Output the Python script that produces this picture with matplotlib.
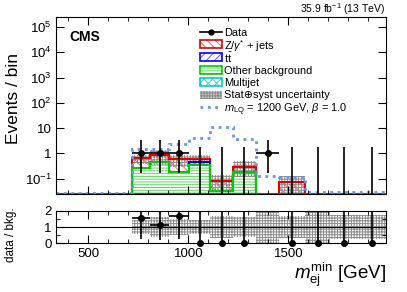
import numpy as np
import matplotlib
matplotlib.use("Agg")
import matplotlib.pyplot as plt
from matplotlib.patches import Rectangle
from matplotlib.lines import Line2D
from matplotlib.ticker import FixedLocator, MultipleLocator, FuncFormatter, LogLocator, NullFormatter

plt.rcParams['font.family'] = ['Liberation Sans', 'DejaVu Sans']
plt.rcParams['mathtext.fontset'] = 'custom'
plt.rcParams['mathtext.rm'] = 'Liberation Sans'
plt.rcParams['mathtext.it'] = 'Liberation Sans:italic'
plt.rcParams['mathtext.bf'] = 'Liberation Sans:bold'
plt.rcParams['hatch.linewidth'] = 0.7

# bin edges (GeV) and contents
edges = np.array([340, 717, 808, 905, 1005, 1110, 1222, 1338, 1455, 1583, 1710, 1850, 1987])
other = np.array([0, 0.255, 0.47, 0.18, 0.345, 0.032, 0.18, 0, 0, 0, 0, 0])
ttbar = np.array([0, 0, 0, 0.01, 0.095, 0, 0, 0, 0, 0, 0, 0])
zjets = np.array([0, 0.385, 0.41, 0.40, 0.19, 0.051, 0.12, 0, 0.075, 0, 0, 0])
multijet = np.array([0, 0, 0, 0, 0, 0, 0, 0, 0, 0, 0, 0])
signal = np.array([0.027, 1.45, 1.5, 2.3, 4.0, 11.5, 3.8, 0.13, 0.12, 0.031, 0.031, 0.031])
data = np.array([0, 1, 1, 1, 0, 0, 0, 1, 0, 0, 0, 0])
rel_unc = np.array([0, 0.42, 0.6, 0.49, 0.42, 0.65, 0.62, 1.0, 0.65, 1.0, 0.72, 0.72])

# poisson (Garwood) intervals
err_lo = np.where(data > 0, 0.827, 0)
err_hi = np.where(data > 0, 2.299, 1.841)

ymin, ymax = 0.025, 2.4e5
floor = 1e-4

W, H = 407, 292
fig = plt.figure(figsize=(W / 100, H / 100), dpi=100)
ax = fig.add_axes([0.1388, 0.3356, 0.8089, 0.6052])
axr = fig.add_axes([0.1388, 0.1661, 0.8089, 0.1130])

centers = 0.5 * (edges[1:] + edges[:-1])
halfw = 0.5 * np.diff(edges)

c_other = floor + other
c_tt = c_other + ttbar
c_z = c_tt + zjets
total = other + ttbar + zjets + multijet

layers = [
    (np.full(len(other), floor), c_other, '#00cc00', '#55dd55', '------'),
    (c_other, c_tt, '#0000ff', '#6060ff', '////'),
    (c_tt, c_z, '#e00000', '#ee6a6a', '\\\\\\\\'),
]
for lo, hi, lc, hc, h in layers:
    ax.stairs(hi, edges, baseline=lo, fill=True, facecolor='white', edgecolor=hc,
              hatch=h, linewidth=0)

# uncertainty band
band_hi = np.where(total > 0, total * (1 + rel_unc), floor)
band_lo = np.where(total > 0, np.maximum(total * (1 - rel_unc), floor), floor)
ax.stairs(band_hi, edges, baseline=band_lo, fill=True, facecolor='none',
          edgecolor='#8c8c8c', hatch='++++++', linewidth=0)

for lo, hi, lc, hc, h in layers[::-1]:
    ax.stairs(hi, edges, baseline=None, color=lc, linewidth=1.5)

# multijet (negligible) sits on the bottom of the axis
ax.stairs(np.clip(multijet, ymin * 1.03, None), edges, baseline=None, color='#007a5e', linewidth=1.5)

# signal
ax.stairs(signal, edges, baseline=None, color='#6495ed', linestyle=':', linewidth=2)

# data
nz = data > 0
ax.errorbar(centers[nz], data[nz], xerr=halfw[nz], yerr=[err_lo[nz], err_hi[nz]],
            fmt='o', color='black', ms=4, lw=1.2, capsize=0)
z = (data == 0) & (centers > edges[1])
ax.vlines(centers[z], ymin, err_hi[z], color='black', lw=1.2)

ax.set_yscale('log')
ax.set_ylim(ymin, ymax)
ax.set_xlim(edges[0], edges[-1])
ax.yaxis.set_major_locator(FixedLocator([0.1, 1, 10, 100, 1e3, 1e4, 1e5]))
ax.yaxis.set_minor_locator(LogLocator(base=10, subs=np.arange(2, 10)))
ax.yaxis.set_minor_formatter(NullFormatter())

def logfmt(v, pos):
    if abs(v - 1) < 1e-9:
        return '1'
    if abs(v - 10) < 1e-9:
        return '10'
    return r'$10^{%d}$' % int(round(np.log10(v)))

ax.yaxis.set_major_formatter(FuncFormatter(logfmt))
ax.set_ylabel('Events / bin', fontsize=12.5)
ax.yaxis.set_label_coords(-0.108, 0.54)

for a in (ax, axr):
    a.xaxis.set_major_locator(MultipleLocator(500))
    a.xaxis.set_minor_locator(MultipleLocator(100))
    a.tick_params(which='both', direction='in', top=True, right=True, labelsize=9.5)
    a.tick_params(which='major', length=6)
    a.tick_params(which='minor', length=3)
    for s in a.spines.values():
        s.set_linewidth(0.8)
ax.tick_params(axis='x', labelbottom=False)

# legend, drawn entry by entry (rows at fixed pixel spacing like the original)
leg_labels = ['Data', r'Z/$\gamma^{*}$ + jets', r'$\mathrm{t\bar{t}}$', 'Other background',
              'Multijet', 'Stat\u2295syst uncertainty', r'$m_{\mathrm{LQ}}$ = 1200 GeV, $\beta$ = 1.0']
leg_style = [
    ('data', 'black', None, None),
    ('box', '#e00000', '#ee6a6a', '\\\\\\\\'),
    ('box', '#0000ff', '#6060ff', '////'),
    ('box', '#00cc00', '#55dd55', '------'),
    ('box', '#00cccc', '#40d0d0', 'xxxx'),
    ('unc', '#9a9a9a', '#8c8c8c', '++++++'),
    ('line', '#6495ed', None, None),
]
x0, x1, xt = 200 / W, 221.5 / W, 224 / W
row0, drow = 32.0, 12.5
bh = 8.0 / H
for i, (lab, (kind, lc, hc, h)) in enumerate(zip(leg_labels, leg_style)):
    yc = 1 - (row0 + i * drow) / H
    if kind == 'data':
        fig.add_artist(Line2D([x0, x1], [yc, yc], color=lc, lw=1.2))
        fig.add_artist(Line2D([(x0 + x1) / 2], [yc], marker='o', ms=3.5, color=lc))
    elif kind == 'line':
        fig.add_artist(Line2D([x0, x1], [yc, yc], color=lc, lw=2, linestyle=':'))
    elif kind == 'unc':
        fig.add_artist(Rectangle((x0, yc - bh / 2), x1 - x0, bh, facecolor='#c8c8c8',
                                 edgecolor=hc, hatch=h, lw=0))
    else:
        fig.add_artist(Rectangle((x0, yc - bh / 2), x1 - x0, bh, facecolor='white',
                                 edgecolor=hc, hatch=h, lw=0))
        fig.add_artist(Rectangle((x0, yc - bh / 2), x1 - x0, bh, facecolor='none',
                                 edgecolor=lc, lw=1.2))
    fig.text(xt, yc, lab, fontsize=7.9, va='center_baseline', ha='left')

ax.text(0.04, 0.93, 'CMS', transform=ax.transAxes, fontsize=10, fontweight='bold', va='top')
fig.text(385 / W, 1 - 13 / H, r'35.9 fb$^{-1}$ (13 TeV)', ha='right', va='baseline', fontsize=7.5)

# ratio panel
ratio_band_hi = np.where(rel_unc > 0, 1 + rel_unc, 1)
ratio_band_lo = np.where(rel_unc > 0, 1 - rel_unc, 1)
axr.axhline(1, color='black', lw=0.8)
axr.stairs(ratio_band_hi, edges, baseline=ratio_band_lo, fill=True, facecolor='none',
           edgecolor='#8c8c8c', hatch='++++++', linewidth=0)

ok = (data > 0) & (total > 0)
ratio = data[ok] / total[ok]
axr.errorbar(centers[ok], ratio, xerr=halfw[ok], yerr=[err_lo[ok] / total[ok], err_hi[ok] / total[ok]],
             fmt='o', color='black', ms=4, lw=1.2, capsize=0)
zr = (data == 0) & (centers > edges[1])
axr.vlines(centers[zr], 0, 2.0, color='black', lw=1.2)
axr.plot(centers[zr], np.zeros(zr.sum()), 'o', color='black', ms=4, clip_on=False, zorder=5)

axr.set_xlim(edges[0], edges[-1])
axr.set_ylim(0, 2)
axr.yaxis.set_major_locator(FixedLocator([0, 1, 2]))
axr.yaxis.set_minor_locator(MultipleLocator(0.5))
axr.set_ylabel('data / bkg.', fontsize=8.5)
axr.yaxis.set_label_coords(-0.12, 0.26)
axr.set_xlabel(r'$m_{\mathrm{ej}}^{\mathrm{min}}$ [GeV]', fontsize=13.5, loc='right', labelpad=0)

fig.savefig('out.png', dpi=100)
